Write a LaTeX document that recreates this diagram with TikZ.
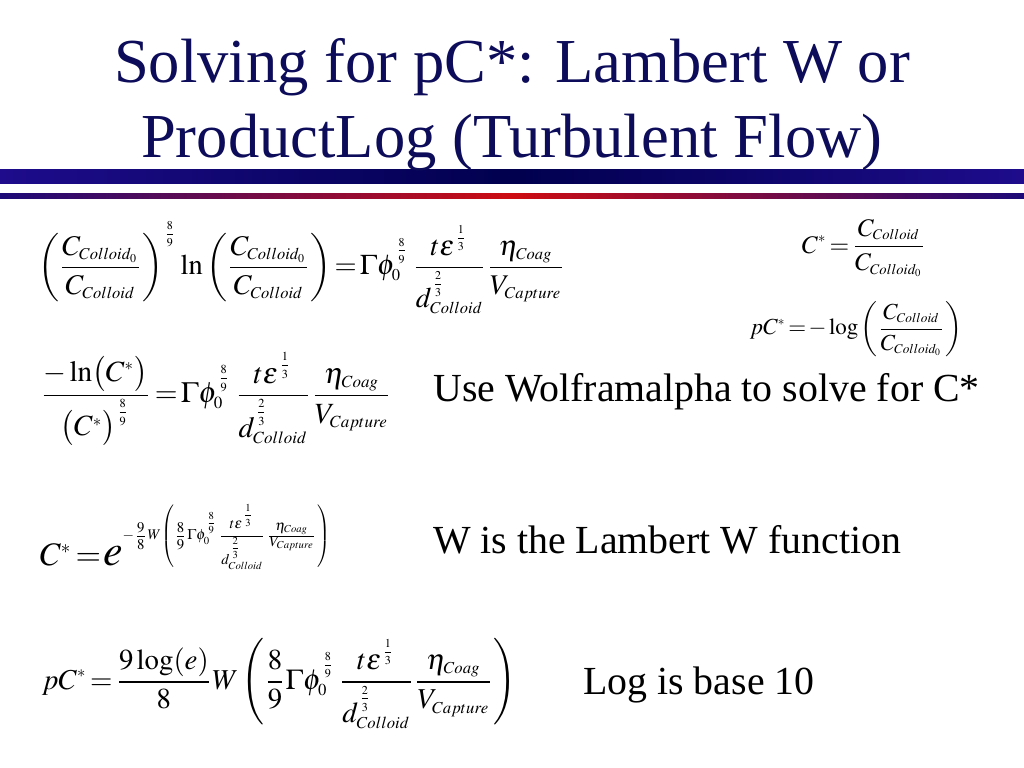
\documentclass[tikz,border=0pt]{standalone}
\usepackage{mathptmx}
\usepackage{graphicx}
\usepackage[no-math]{fontspec}
\setmainfont{Liberation Serif}
\DeclareMathSizes{10}{10}{5.8}{4.2}
\definecolor{titlenavy}{RGB}{12,12,90}
\definecolor{barEdge}{RGB}{30,12,140}
\definecolor{barMid}{RGB}{0,0,78}
\definecolor{redEdge}{RGB}{28,10,120}
\definecolor{redMid}{RGB}{205,12,18}
\newlength\pxu
\setlength\pxu{0.703125pt}
% loose, raised superscript fraction (MathType-like placement)
\newcommand{\sfr}[2]{\frac{#1\rule[-1.2pt]{0pt}{1.2pt}}{\rule{0pt}{4pt}#2}\rule[-3.5pt]{0pt}{3.5pt}}
\newcommand{\Pstrut}[2]{\rule[-#1pt]{0pt}{#2pt}}
\newcommand{\FracTerm}{\frac{t\varepsilon^{\sfr{1}{3}}}{d_{Colloid}^{\sfr{2}{3}}}\frac{\eta_{Coag}}{V_{Capture}}}
\newcommand{\EqBox}[2]{\resizebox{#1\pxu}{!}{$\displaystyle #2$}}
\newcommand{\Eq}{\mathrel{\mkern-2mu=\mkern-2mu}}
% exponent fractions for the Lambert W form
\newcommand{\efr}[2]{\frac{\scriptstyle #1\rule[-1.2pt]{0pt}{1.2pt}}{\scriptstyle\rule{0pt}{5pt}#2}}
\begin{document}
\begin{tikzpicture}[x=0.703125pt,y=-0.703125pt,
  titletext/.style={font=\fontsize{44}{52}\selectfont, text=titlenavy, inner sep=0pt},
  bodytext/.style={font=\fontsize{28}{34}\selectfont, text=black, inner sep=0pt, anchor=base west},
  eqw/.style={inner sep=0pt, outer sep=0pt, anchor=west}]
\useasboundingbox (0,0) rectangle (1024,768);
\fill[white] (0,0) rectangle (1024,768);
% bars
\shade[left color=barEdge, right color=barEdge, middle color=barMid] (0,170) rectangle (1024,184);
\shade[left color=redEdge, right color=redEdge, middle color=redMid] (0,193.5) rectangle (1024,199);
% title
\node[titletext, anchor=base] (t1) at (512,83) {Solving for pC*: Lambert W or};
\node[titletext, anchor=base] (t2) at (512,158) {ProductLog (Turbulent Flow)};
% equation 1
\node[eqw] (eq1) at (38,268) {\EqBox{527}{
  \left(\Pstrut{10}{25}\frac{C_{Colloid_0}}{C_{Colloid}}\right)^{\sfr{8}{9}}\ln\left(\Pstrut{10}{25}\frac{C_{Colloid_0}}{C_{Colloid}}\right)\Eq\Gamma\phi_0^{\sfr{8}{9}}\,\FracTerm}};
% right definitions
\node[eqw] (def1) at (802,248) {\EqBox{124}{C^{*}\Eq\frac{C_{Colloid}}{C_{Colloid_0}}}};
\node[eqw] (def2) at (750,329) {\EqBox{212}{pC^{*}\Eq-\log\left(\Pstrut{10}{25}\frac{C_{Colloid}}{C_{Colloid_0}}\right)}};
% equation 2
\node[eqw] (eq2) at (40,399) {\EqBox{352}{
  \frac{-\ln\bigl(C^{*}\bigr)}{\bigl(C^{*}\bigr)^{\sfr{8}{9}}}\Eq\Gamma\phi_0^{\sfr{8}{9}}\,\FracTerm}};
\node[bodytext] (use) at (433,401) {Use Wolframalpha to solve for C*};
% equation 3
\node[eqw] (eq3) at (40,537) {\EqBox{290}{
  \scalebox{1.29}{$C^{*}\Eq$}\;\scalebox{1.73}{$e$}\raisebox{10pt}{$\scriptstyle -\efr{9}{8}W\left(\efr{8}{9}\Gamma\phi_0^{\sfr{8}{9}}\frac{\scriptstyle t\varepsilon^{\sfr{1}{3}}\rule[-2.5pt]{0pt}{2.5pt}}{\scriptstyle\rule{0pt}{9pt}d_{Colloid}^{\sfr{2}{3}}}\frac{\scriptstyle \eta_{Coag}}{\scriptstyle V_{Capture}}\right)$}}};
\node[bodytext] (wis) at (433,553) {W is the Lambert W function};
% equation 4
\node[eqw] (eq4) at (42,684) {\EqBox{474}{
  pC^{*}\Eq\frac{9\log(e)}{8}W\left(\frac{8}{9}\Gamma\phi_0^{\sfr{8}{9}}\,\FracTerm\right)}};
\node[bodytext] (logb) at (583,694) {Log is base 10};
\end{tikzpicture}
\end{document}
